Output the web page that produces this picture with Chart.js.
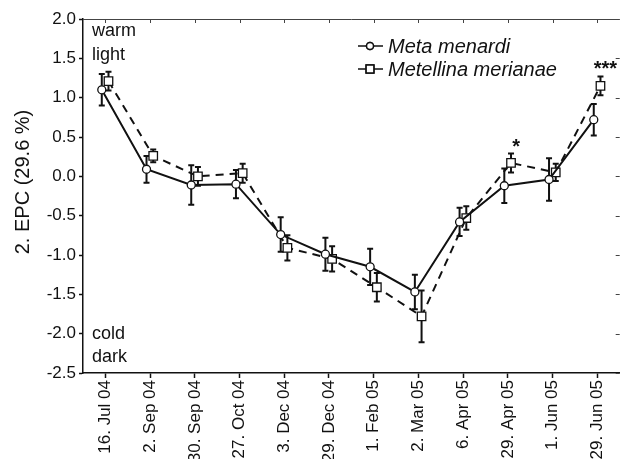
<!DOCTYPE html>
<html><head><meta charset="utf-8">
<script src="https://cdn.jsdelivr.net/npm/chart.js@4/dist/chart.umd.min.js"></script>
<style>html,body{margin:0;padding:0;background:#fff;overflow:hidden}canvas{display:block}</style>
</head><body>
<canvas id="c" width="627" height="459"></canvas>
<script>
const categories = ['16. Jul 04','2. Sep 04','30. Sep 04','27. Oct 04','3. Dec 04','29. Dec 04','1. Feb 05','2. Mar 05','6. Apr 05','29. Apr 05','1. Jun 05','29. Jun 05'];
const metaMenardi      = [1.10, 0.09, -0.11, -0.10, -0.74, -0.99, -1.15, -1.47, -0.58, -0.12, -0.04, 0.72];
const metaMenardiErr   = [0.20, 0.17,  0.25,  0.18,  0.22,  0.21,  0.23,  0.22,  0.18,  0.22,  0.27, 0.20];
const metellina        = [1.21, 0.26,  0.00,  0.04, -0.91, -1.05, -1.41, -1.78, -0.53,  0.17,  0.05, 1.15];
const metellinaErr     = [0.12, 0.08,  0.12,  0.12,  0.16,  0.16,  0.18,  0.33,  0.15,  0.12,  0.11, 0.12];
const significance     = ['', '', '', '', '', '', '', '', '', '*', '', '***'];
const yTickValues      = [2.0, 1.5, 1.0, 0.5, 0.0, -0.5, -1.0, -1.5, -2.0, -2.5];
const yTitle = '2. EPC (29.6 %)';
const cornerTop = ['warm', 'light'];
const cornerBottom = ['cold', 'dark'];

const FONT = '"Liberation Sans", Arial, sans-serif';
const dodge = [-0.08, 0.07];

function toPoints(vals, d) { return vals.map((v, i) => ({x: i + d, y: v})); }

const extras = {
  id: 'extras',
  beforeDatasetsDraw(chart) {
    const ctx = chart.ctx, xs = chart.scales.x, ys = chart.scales.y;
    const errs = [metaMenardiErr, metellinaErr];
    ctx.save();
    ctx.strokeStyle = '#111'; ctx.lineWidth = 2;
    chart.data.datasets.forEach((ds, di) => {
      ds.data.forEach((p, i) => {
        const x = xs.getPixelForValue(p.x);
        const y1 = ys.getPixelForValue(p.y + errs[di][i]);
        const y2 = ys.getPixelForValue(p.y - errs[di][i]);
        ctx.beginPath();
        ctx.moveTo(x, y1); ctx.lineTo(x, y2);
        ctx.moveTo(x - 3, y1); ctx.lineTo(x + 3, y1);
        ctx.moveTo(x - 3, y2); ctx.lineTo(x + 3, y2);
        ctx.stroke();
      });
    });
    ctx.restore();
  },
  afterDraw(chart) {
    const ctx = chart.ctx, a = chart.chartArea, xs = chart.scales.x, ys = chart.scales.y;
    ctx.save();
    // top border + inward ticks
    ctx.strokeStyle = '#444'; ctx.lineWidth = 1;
    ctx.beginPath(); ctx.moveTo(a.left, a.top + 0.5); ctx.lineTo(a.right, a.top + 0.5); ctx.stroke();
    ctx.beginPath();
    categories.forEach((c, i) => {
      const x = Math.round(xs.getPixelForValue(i)) + 0.5;
      ctx.moveTo(x, a.top); ctx.lineTo(x, a.top + 4);
    });
    yTickValues.forEach(v => {
      const y = Math.round(ys.getPixelForValue(v)) + 0.5;
      ctx.moveTo(a.right, y); ctx.lineTo(a.right - 4, y);
    });
    ctx.stroke();

    // corner texts
    ctx.fillStyle = '#111';
    ctx.font = '18px ' + FONT;
    ctx.textAlign = 'left'; ctx.textBaseline = 'middle';
    cornerTop.forEach((t, i) => ctx.fillText(t, a.left + 9, a.top + 12 + i * 24));
    cornerBottom.forEach((t, i) => ctx.fillText(t, a.left + 9, a.bottom - 39 + i * 23));

    // y title
    ctx.save();
    ctx.translate(23, 182);
    ctx.rotate(-Math.PI / 2);
    ctx.font = '20px ' + FONT;
    ctx.textAlign = 'center'; ctx.textBaseline = 'middle';
    ctx.fillText(yTitle, 0, 0);
    ctx.restore();

    // legend
    ctx.font = 'italic 20px ' + FONT;
    ctx.textAlign = 'left'; ctx.textBaseline = 'middle';
    chart.data.datasets.forEach((ds, di) => {
      const y = 46 + di * 23, x0 = 358, xm = 370, x1 = 383;
      ctx.strokeStyle = '#111'; ctx.lineWidth = 1.5; ctx.setLineDash([]);
      ctx.beginPath(); ctx.moveTo(x0, y); ctx.lineTo(x1, y); ctx.stroke();
      Chart.helpers.drawPoint(ctx, {pointStyle: ds.pointStyle, radius: ds.pointRadius - 0.5, borderWidth: 1.3, rotation: 0}, xm, y);
      ctx.fillStyle = '#fff';
      ctx.fill();
      ctx.stroke();
      ctx.fillStyle = '#111';
      ctx.fillText(ds.label, 388, y + 1);
    });

    // significance stars
    ctx.font = 'bold 20px ' + FONT;
    ctx.textAlign = 'center'; ctx.textBaseline = 'alphabetic';
    const ds = chart.data.datasets[1];
    significance.forEach((s, i) => {
      if (!s) return;
      const p = ds.data[i];
      const x = xs.getPixelForValue(p.x) + 5;
      const y = ys.getPixelForValue(p.y + metellinaErr[i]) - 1;
      ctx.fillText(s, x, y);
    });
    ctx.restore();
  }
};

new Chart(document.getElementById('c'), {
  type: 'line',
  data: {
    datasets: [
      {label: 'Meta menardi', data: toPoints(metaMenardi, dodge[0]),
       borderColor: '#111', borderWidth: 2, backgroundColor: '#fff',
       pointStyle: 'circle', pointRadius: 4, pointBorderWidth: 1.3, pointBackgroundColor: '#fff', pointBorderColor: '#111'},
      {label: 'Metellina merianae', data: toPoints(metellina, dodge[1]),
       borderColor: '#111', borderWidth: 2, borderDash: [8, 6], backgroundColor: '#fff',
       pointStyle: 'rect', pointRadius: 6, pointBorderWidth: 1.3, pointBackgroundColor: '#fff', pointBorderColor: '#111'}
    ]
  },
  options: {
    responsive: false, animation: false,
    layout: {padding: {top: 19, left: 0, right: 0, bottom: 0}},
    plugins: {legend: {display: false}, tooltip: {enabled: false}},
    scales: {
      x: {
        type: 'linear', min: -0.5, max: 11.5,
        afterBuildTicks(s) { s.ticks = categories.map((c, i) => ({value: i})); },
        afterFit(s) { s.height = 86; },
        ticks: {callback: (v) => categories[v] ?? '', autoSkip: false, maxRotation: 90, minRotation: 90,
                color: '#111', font: {family: FONT, size: 17}, padding: 2},
        grid: {drawOnChartArea: false, color: '#111', tickLength: 5, tickWidth: 1.5},
        border: {color: '#111', width: 1.5}
      },
      y: {
        min: -2.5, max: 2.0,
        afterBuildTicks(s) { s.ticks = yTickValues.map(v => ({value: v})); },
        afterFit(s) { s.width = 83; },
        ticks: {callback: (v) => v.toFixed(1), color: '#111', font: {family: FONT, size: 17}, padding: 3},
        grid: {drawOnChartArea: false, color: '#111', tickLength: 4, tickWidth: 1.5},
        border: {color: '#111', width: 1.5}
      }
    }
  },
  plugins: [extras]
});
</script>
</body></html>
